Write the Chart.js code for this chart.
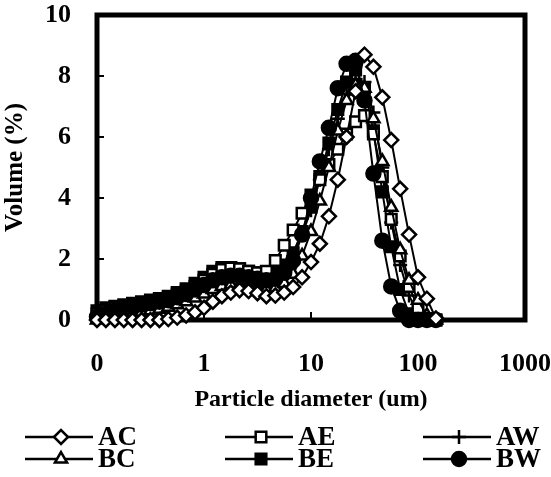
<!DOCTYPE html>
<html><head><meta charset="utf-8">
<script src="https://cdn.jsdelivr.net/npm/chart.js@4/dist/chart.umd.min.js"></script>
<style>html,body{margin:0;padding:0;background:#fff}#wrap{width:551px;height:477px}</style>
</head><body><div id="wrap"><canvas id="c" width="551" height="477"></canvas></div>
<script>
// ---- data ----
const diameters = [0.1, 0.121, 0.147, 0.178, 0.215, 0.261, 0.316, 0.383, 0.464, 0.562, 0.681, 0.825, 1, 1.21, 1.47, 1.78, 2.15, 2.61, 3.16, 3.83, 4.64, 5.62, 6.81, 8.25, 10, 12.1, 14.7, 17.8, 21.5, 26.1, 31.6, 38.3, 46.4, 56.2, 68.1, 82.5, 100, 121, 147];
const seriesNames = ['AC', 'AE', 'AW', 'BC', 'BE', 'BW'];
const AC = [0,0,0,0,0,0,0,0,0.03,0.08, 0.15,0.25,0.4,0.6,0.78,0.9,0.98,0.95,0.88,0.78, 0.8,0.9,1.08,1.4,1.9,2.5,3.4,4.6,6.0,7.5, 8.7,8.3,7.3,5.9,4.3,2.8,1.4,0.7,0.05];
const AE = [0.2,0.3,0.4,0.45,0.5,0.55,0.6,0.68,0.75,0.85, 0.95,1.1,1.3,1.5,1.65,1.7,1.68,1.6,1.55,1.6, 1.95,2.45,2.95,3.5,4.1,4.6,5.1,5.6,6.1,6.5, 6.7,6.1,4.7,3.3,2.1,1.1,0.4,0.05,0];
const AW = [0.15,0.25,0.32,0.4,0.45,0.5,0.55,0.6,0.68,0.78, 0.9,1.05,1.2,1.38,1.5,1.55,1.52,1.45,1.4,1.38, 1.45,1.7,2.1,2.8,3.6,4.6,5.6,6.6,7.4,7.9, 7.8,6.8,5.0,3.2,1.8,0.8,0.25,0.05,0];
const BC = [0,0.05,0.1,0.15,0.2,0.25,0.3,0.35,0.42,0.5, 0.6,0.72,0.85,1.0,1.1,1.15,1.15,1.1,1.05,1.0, 1.05,1.2,1.5,2.1,2.9,3.9,5.0,6.2,7.2,7.7, 7.6,6.6,5.2,3.7,2.3,1.3,0.65,0.15,0];
const BE = [0.3,0.4,0.45,0.5,0.55,0.6,0.65,0.7,0.78,0.9, 1.02,1.2,1.4,1.6,1.72,1.72,1.68,1.6,1.55,1.5, 1.55,1.8,2.2,2.9,3.7,4.7,5.8,6.9,7.8,8.2, 7.6,6.2,4.2,2.4,1.0,0.2,0,0,0];
const BW = [0.1,0.2,0.3,0.38,0.45,0.5,0.55,0.6,0.65,0.75, 0.85,1.0,1.15,1.3,1.4,1.45,1.45,1.4,1.35,1.3, 1.35,1.55,1.95,2.8,4.0,5.2,6.3,7.6,8.4,8.5, 7.2,4.8,2.6,1.1,0.3,0,0,0,0];
const seriesValues = [AC, AE, AW, BC, BE, BW];
const xTickValues = [0.1, 1, 10, 100, 1000];
const xTickLabels = ['0', '1', '10', '100', '1000'];
const yTickValues = [0, 2, 4, 6, 8, 10];
const xTitle = 'Particle diameter (um)';
const yTitle = 'Volume (%)';

// ---- styles ----
const FONT = "'Liberation Serif', 'Times New Roman', serif";
const markerStyles = [
  { pointStyle: 'rectRot', fill: '#ffffff', radius: 7, order: 0 },
  { pointStyle: 'rect', fill: '#ffffff', radius: 7.5, order: 3 },
  { pointStyle: 'cross', fill: '#000000', radius: 7, order: 4 },
  { pointStyle: 'triangle', fill: '#ffffff', radius: 7, order: 2 },
  { pointStyle: 'rect', fill: '#000000', radius: 7.5, order: 5 },
  { pointStyle: 'circle', fill: '#000000', radius: 7, order: 1 }
];

const datasets = seriesNames.map((name, k) => ({
  label: name,
  data: diameters.map((d, i) => ({ x: d, y: seriesValues[k][i] })),
  borderColor: '#000',
  borderWidth: 2,
  pointStyle: markerStyles[k].pointStyle,
  pointRadius: markerStyles[k].radius,
  pointBackgroundColor: markerStyles[k].fill,
  pointBorderColor: '#000',
  pointBorderWidth: 2.5,
  tension: 0,
  clip: false,
  order: markerStyles[k].order
}));

function drawMarker(ctx, style, x, y) {
  ctx.save();
  ctx.fillStyle = style.fill;
  ctx.strokeStyle = '#000';
  ctx.lineWidth = 2.5;
  if (Chart.helpers && Chart.helpers.drawPoint) {
    Chart.helpers.drawPoint(ctx, { pointStyle: style.pointStyle, radius: style.radius, rotation: 0, borderWidth: 2.5 }, x, y);
  }
  ctx.restore();
}

const framePlugin = {
  id: 'frame',
  beforeDatasetsDraw(chart) {
    const { ctx, chartArea: a, scales } = chart;
    ctx.save();
    ctx.strokeStyle = '#000';
    ctx.lineWidth = 5;
    ctx.strokeRect(a.left, a.top, a.right - a.left, a.bottom - a.top);
    ctx.lineWidth = 2;
    yTickValues.forEach(v => {
      if (v === 0 || v === 10) return;
      const y = scales.y.getPixelForValue(v);
      ctx.beginPath(); ctx.moveTo(a.left, y); ctx.lineTo(a.left + 7, y); ctx.stroke();
    });
    xTickValues.forEach(v => {
      if (v === 0.1 || v === 1000) return;
      const x = scales.x.getPixelForValue(v);
      ctx.beginPath(); ctx.moveTo(x, a.bottom); ctx.lineTo(x, a.bottom - 8); ctx.stroke();
    });
    ctx.restore();
  },
  afterDraw(chart) {
    const ctx = chart.ctx;
    const colX = [25, 225, 423];
    const rowY = [437, 459];
    ctx.save();
    seriesNames.forEach((name, k) => {
      const col = k % 3, row = Math.floor(k / 3);
      const x0 = colX[col], y = rowY[row];
      ctx.strokeStyle = '#000';
      ctx.lineWidth = 2.5;
      ctx.beginPath(); ctx.moveTo(x0, y); ctx.lineTo(x0 + 68, y); ctx.stroke();
      drawMarker(ctx, markerStyles[k], x0 + 36, y);
      ctx.fillStyle = '#000';
      ctx.font = 'bold 27px ' + FONT;
      ctx.textBaseline = 'middle';
      ctx.textAlign = 'left';
      ctx.fillText(name, x0 + 73, y + 1);
    });
    ctx.restore();
  }
};

new Chart(document.getElementById('c'), {
  type: 'line',
  data: { datasets },
  options: {
    responsive: false,
    animation: false,
    devicePixelRatio: 1,
    layout: { padding: { left: 0, right: 26, top: 15, bottom: 57 } },
    plugins: { legend: { display: false }, tooltip: { enabled: false } },
    scales: {
      x: {
        type: 'logarithmic',
        min: 0.1, max: 1000,
        grid: { display: false, drawTicks: false },
        border: { display: false },
        afterBuildTicks: s => { s.ticks = xTickValues.map(v => ({ value: v })); },
        afterFit: s => { s.height = 100; s.paddingLeft = 0; s.paddingRight = 0; },
        ticks: {
          autoSkip: false, maxRotation: 0,
          color: '#000', padding: 29,
          font: { family: FONT, size: 26, weight: 'bold' },
          callback: (v) => { const i = xTickValues.indexOf(v); return i >= 0 ? xTickLabels[i] : ''; }
        },
        title: { display: true, text: xTitle, color: '#000', font: { family: FONT, size: 24, weight: 'bold' }, padding: { top: 0, bottom: 6 } }
      },
      y: {
        type: 'linear',
        min: 0, max: 10,
        grid: { display: false, drawTicks: false },
        border: { display: false },
        afterBuildTicks: s => { s.ticks = yTickValues.map(v => ({ value: v })); },
        afterFit: s => { s.width = 97; s.paddingTop = 0; s.paddingBottom = 0; },
        ticks: {
          color: '#000', padding: 26,
          font: { family: FONT, size: 26, weight: 'bold' }
        },
        title: { display: true, text: yTitle, color: '#000', font: { family: FONT, size: 25, weight: 'bold' }, padding: { top: 1, bottom: 0 } }
      }
    }
  },
  plugins: [framePlugin]
});
</script></body></html>
